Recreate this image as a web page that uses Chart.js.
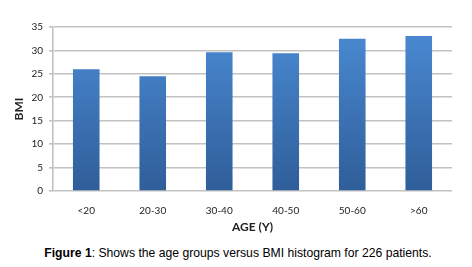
<!DOCTYPE html>
<html><head><meta charset="utf-8">
<script src="https://cdn.jsdelivr.net/npm/chart.js@4"></script>
<style>
html,body{margin:0;padding:0;background:#fff;}
#wrap{position:relative;width:472px;height:267px;}
#cv{position:absolute;left:0;top:0;}
#cap{position:absolute;left:0;top:246px;width:476px;text-align:center;font-family:"Liberation Sans",Arial,sans-serif;font-size:12.2px;color:#000;}
</style></head>
<body>
<div id="wrap">
<div style="position:absolute;left:0;top:0;width:472px;height:240px;"><canvas id="cv"></canvas></div>
<div id="cap"><b>Figure 1</b>: Shows the age groups versus BMI histogram for 226 patients.</div>
</div>
<script>
const categories = ["<20","20-30","30-40","40-50","50-60",">60"];
const bmiValues = [26.0, 24.5, 29.6, 29.4, 32.5, 33.1];
const yTicks = [0,5,10,15,20,25,30,35];

const fontFam = "Lato, 'Open Sans', sans-serif";
function grad(ctx){
  const c = ctx.chart; const a = c.chartArea;
  if(!a) return '#3f78c0';
  const g = c.ctx.createLinearGradient(0,a.top,0,a.bottom);
  g.addColorStop(0,'#4a8ad3');
  g.addColorStop(1,'#2f5e99');
  return g;
}
new Chart(document.getElementById('cv'),{
  type:'bar',
  data:{labels:categories,datasets:[{data:bmiValues,backgroundColor:grad,borderWidth:0,barPercentage:0.4,categoryPercentage:1.0}]},
  options:{
    responsive:true,maintainAspectRatio:false,animation:false,
    devicePixelRatio:1,
    layout:{padding:{top:27,right:20,left:12,bottom:0}},
    plugins:{legend:{display:false},tooltip:{enabled:false}},
    scales:{
      x:{
        grid:{display:false,drawTicks:false},
        border:{display:false},
        ticks:{padding:14,color:'#222',font:{family:fontFam,size:10}},
        title:{display:true,text:'AGE (Y)',color:'#222',font:{family:fontFam,size:12,weight:'bold'},padding:{top:0,bottom:6}},
        afterFit:(s)=>{s.height=49;}
      },
      y:{
        min:0,max:35,
        afterBuildTicks:(s)=>{s.ticks=yTicks.map(v=>({value:v}));},
        grid:{color:'#c2c2c2',lineWidth:1.6,drawTicks:true,tickLength:4,tickColor:'#c2c2c2'},
        border:{display:true,color:'#c2c2c2',width:1.6},
        ticks:{padding:6,color:'#222',font:{family:fontFam,size:10}},
        title:{display:true,text:'BMI',color:'#222',font:{family:fontFam,size:12,weight:'bold'},padding:{top:0,bottom:4}},
        afterFit:(s)=>{s.width=41;}
      }
    }
  }
});
</script>
</body></html>
